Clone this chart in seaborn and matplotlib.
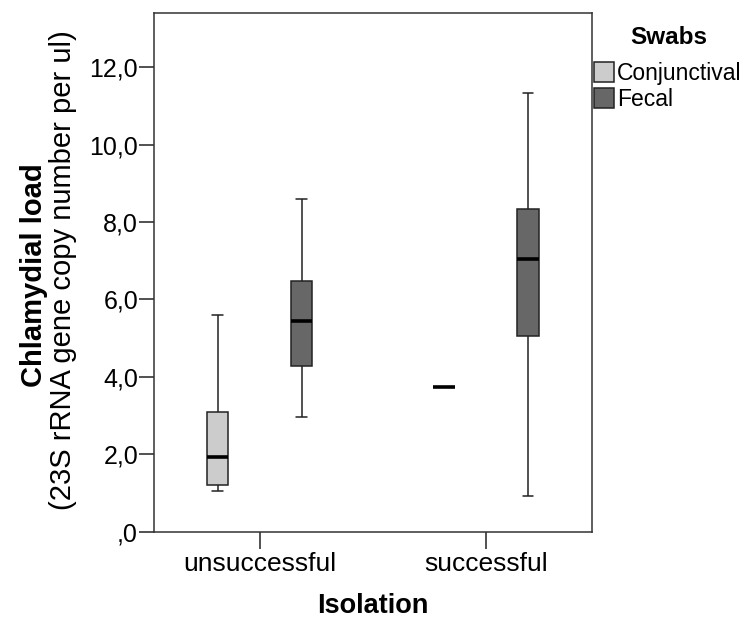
import numpy as np
import pandas as pd
import matplotlib
matplotlib.use("Agg")
import matplotlib.pyplot as plt
import seaborn as sns

# Values: whisker low, Q1, median, Q3, whisker high
isolation_levels = ["unsuccessful", "successful"]
swab_levels = ["Conjunctival", "Fecal"]

unsuccessful_conj = [1.04, 1.19, 1.92, 3.08, 5.59]
unsuccessful_fecal = [2.97, 4.27, 5.45, 6.47, 8.61]
successful_conj = [3.74]
successful_fecal = [0.92, 5.05, 7.04, 8.33, 11.33]

ytick_values = [0, 2, 4, 6, 8, 10, 12]
ytick_labels = [",0", "2,0", "4,0", "6,0", "8,0", "10,0", "12,0"]

swab_colors = {"Conjunctival": "#cccccc", "Fecal": "#676767"}

# Build long-form table
rows = []
for iso, swab, vals in [
    ("unsuccessful", "Conjunctival", unsuccessful_conj),
    ("unsuccessful", "Fecal", unsuccessful_fecal),
    ("successful", "Conjunctival", successful_conj),
    ("successful", "Fecal", successful_fecal),
]:
    for v in vals:
        rows.append({"Isolation": iso, "Swabs": swab, "load": v})
df = pd.DataFrame(rows)

sns.set_style("ticks")
plt.rcParams["font.family"] = ["Liberation Sans", "DejaVu Sans"]
plt.rcParams["text.color"] = "black"
plt.rcParams["xtick.color"] = "black"
plt.rcParams["ytick.color"] = "black"
plt.rcParams["axes.labelcolor"] = "black"

fig = plt.figure(figsize=(7.45, 6.21), dpi=100)
ax = fig.add_axes([0.2067, 0.1441, 0.5875, 0.8345])

sns.boxplot(
    data=df, x="Isolation", y="load", hue="Swabs",
    order=isolation_levels, hue_order=swab_levels,
    palette=swab_colors, width=0.742, gap=0.749,
    whis=(0, 100), linecolor="#222222", linewidth=1.1,
    medianprops={"color": "black", "linewidth": 2.6},
    ax=ax,
)

ax.set_xlim(-0.467, 1.467)
ax.set_ylim(0, 13.4)
ax.set_yticks(ytick_values)
ax.set_yticklabels(ytick_labels)
ax.set_xlabel("")
ax.set_ylabel("")

for side in ["left", "right", "top", "bottom"]:
    ax.spines[side].set_visible(True)
    ax.spines[side].set_color("#333333")
    ax.spines[side].set_linewidth(1.1)

ax.tick_params(axis="y", length=10.5, width=1.1, pad=1, labelsize=18,
               color="#222222", labelcolor="black")
ax.tick_params(axis="x", length=12, width=1.1, pad=3, labelsize=19,
               color="#222222", labelcolor="black")

# axis titles
fig.text(373 / 745, 1 - 606 / 621, "Isolation", ha="center", va="center",
         fontsize=19.5, fontweight="bold", color="black")
fig.text(34 / 745, 1 - 275 / 621, "Chlamydial load", rotation=90,
         ha="center", va="center", fontsize=21, fontweight="bold", color="black")
fig.text(63 / 745, 1 - 270 / 621, "(23S rRNA gene copy number per ul)",
         rotation=90, ha="center", va="center", fontsize=21, color="black")

# legend outside on the right, title drawn separately
fig.text(669 / 745, 1 - 37 / 621, "Swabs", ha="center", va="center",
         fontsize=17.5, fontweight="bold", color="black")
handles, labels = ax.get_legend_handles_labels()
leg = ax.legend(handles, labels, loc="upper left",
                bbox_to_anchor=(0.797, 1 - 62 / 621), bbox_transform=fig.transFigure,
                frameon=False, fontsize=16.5, borderpad=0, borderaxespad=0,
                handlelength=0.9, handleheight=0.95, handletextpad=0.1,
                labelspacing=0.12)
for t in leg.get_texts():
    t.set_color("black")

fig.savefig("out.png", dpi=100)
